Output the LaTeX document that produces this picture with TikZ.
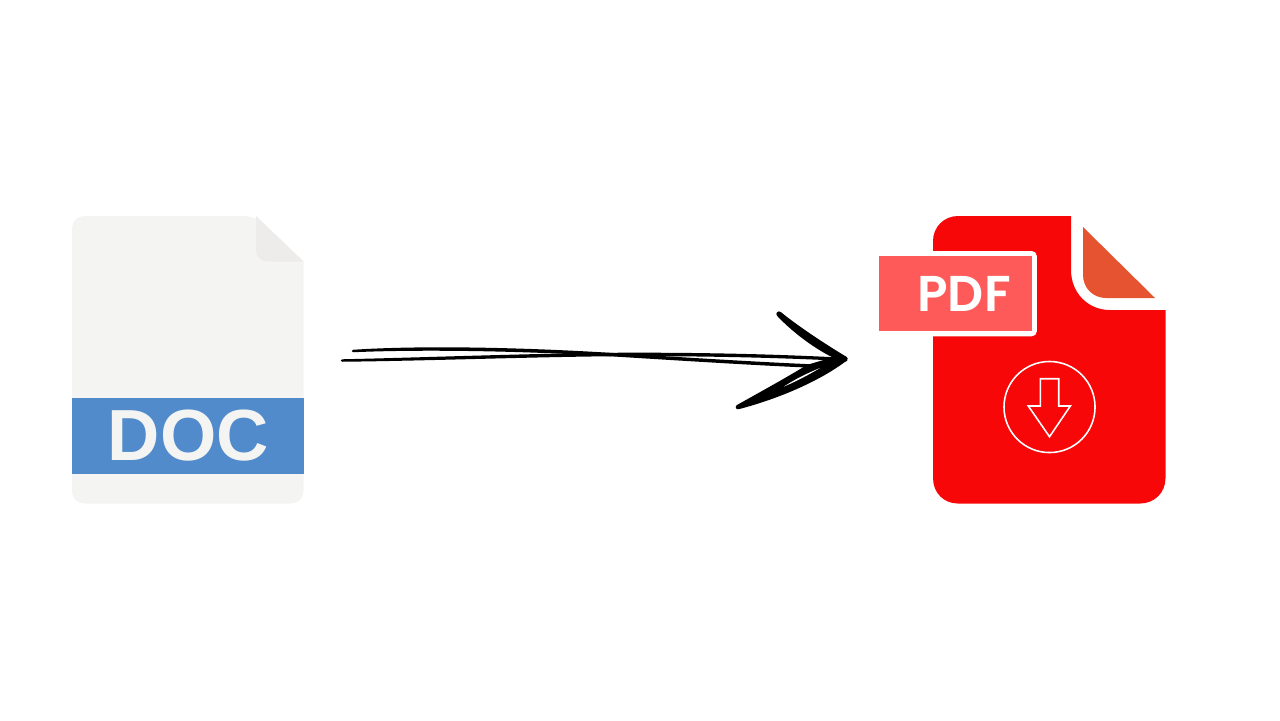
\documentclass[tikz,border=0pt]{standalone}
\usepackage{fontspec}
\usepackage{tikz}
\usetikzlibrary{positioning}
\newfontfamily\docfont{Liberation Sans}
\newfontfamily\pdffont[BoldFont={Poppins SemiBold}]{Poppins}
\definecolor{docpage}{HTML}{F4F4F3}
\definecolor{docfold}{HTML}{EDECEB}
\definecolor{docblue}{HTML}{518BCB}
\definecolor{pdfred}{HTML}{F70707}
\definecolor{pdffold}{HTML}{E55330}
\definecolor{pdftag}{HTML}{FF5A5A}

\begin{document}
\begin{tikzpicture}[x=0.01cm, y=-0.01cm, inner sep=0pt, outer sep=0pt,
band/.style ={fill = docblue, text = docpage, minimum width=2.315cm, minimum height=0.755cm, font=\docfont\bfseries\fontsize{20.6}{21}\selectfont},
tag/.style ={fill = pdftag, text = white, minimum width=1.53cm, minimum height=0.75cm, font=\pdffont\bfseries\fontsize{14.3}{15}\selectfont},
ring/.style ={circle, draw = white, line width=0.45pt, minimum width=0.91cm},
stroke/.style ={fill = black, draw = black, line width=0.7pt, line join=round}]
\useasboundingbox (0,0) rectangle (1280,720);

% doc page
\fill[docpage, rounded corners=0.12cm] (72,503.5) -- (72,216) -- (256,216) [sharp corners] -- (303.5,261.5) [rounded corners=0.12cm] -- (303.5,503.5) -- cycle;
\fill[docfold] (256,216) -- (303.5,261.5) -- (268,261.5) .. controls (261,261.5) and (256,257) .. (256,250) -- cycle;
\node (DB) [band] at (188.2,435.8) {DOC};

% pdf page
\fill[pdfred] (958,216) -- (1071,216) -- (1071,270) .. controls (1071,293) and (1088,310) .. (1110,310) -- (1165.5,310) -- (1165.5,478) .. controls (1165.5,493) and (1154,503.5) .. (1140,503.5) -- (958,503.5) .. controls (944,503.5) and (933,493) .. (933,478) -- (933,241) .. controls (933,227) and (944,216) .. (958,216) -- cycle;
\fill[pdffold] (1083,227) -- (1155,298) -- (1106,298) .. controls (1093,298) and (1083,288) .. (1083,275) -- cycle;
\fill[white, rounded corners=0.05cm] (879,251) rectangle (1036.8,336.3);
\node (PT) [tag] at (955.5,293.5) {\hspace{0.17cm}PDF};

% download mark
\node (RG) [ring] at (1049.5,407) {};
\draw[white, line width=0.45pt] (1040.3,378.7) -- (1058.7,378.7) -- (1058.7,406) -- (1070.3,406) -- (1049.5,436.7) -- (1028.3,406) -- (1040.3,406) -- cycle;

% hand drawn arrow
\coordinate (T1) at (353,351);
\coordinate (T2) at (342,360.5);
\coordinate (H) at (845,359);
\coordinate (B1) at (779,314);
\coordinate (B2) at (738,407);
\path[stroke] (T1) .. controls (420,346.5) and (520,348.5) .. (610,354) .. controls (690,359) and (770,364) .. (825,366) -- (825,367) .. controls (770,365) and (690,360) .. (610,355) .. controls (520,349.5) and (420,348) .. (T1) -- cycle;
\path[stroke] (T2) .. controls (430,358.5) and (520,355) .. (610,354) .. controls (690,353.5) and (770,355) .. (H) -- (840,359.5) .. controls (770,356) and (690,354.5) .. (610,355) .. controls (520,356) and (430,359.5) .. (T2) -- cycle;
\path[stroke, line width=1.5pt] (B1) .. controls (795,327) and (820,344) .. (H) -- (838,357) .. controls (818,348) and (795,331) .. (B1) -- cycle;
\path[stroke, line width=1.3pt] (H) .. controls (820,378) and (780,396) .. (B2) .. controls (765,392) and (790,378) .. (808,367) -- (838,358) -- cycle;
\fill[white] (784,386.5) .. controls (797,381) and (810,374) .. (820,368) .. controls (810,372) and (795,379) .. (784,386.5) -- cycle;
\end{tikzpicture}
\end{document}
